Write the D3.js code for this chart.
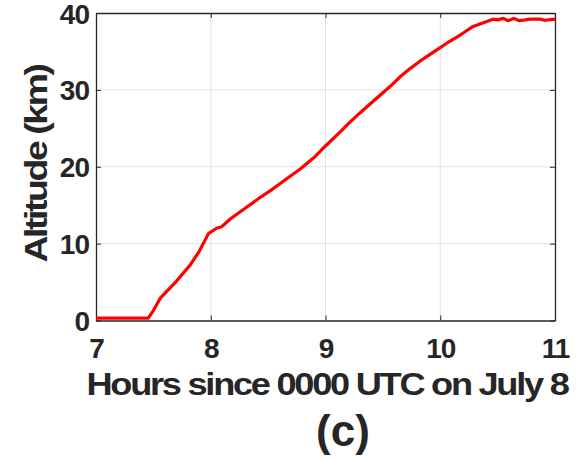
<!DOCTYPE html>
<html>
<head>
<meta charset="utf-8">
<script src="https://cdn.jsdelivr.net/npm/d3@7"></script>
<style>
  body { margin: 0; background: #fff; }
  svg text { font-family: "Liberation Sans", Arial, sans-serif; font-weight: bold; fill: #262626; }
</style>
</head>
<body>
<svg id="chart" width="581" height="460"></svg>
<script>
// balloon altitude
const hours = [7.0, 7.456, 7.5, 7.56, 7.7, 7.82, 7.9, 7.98, 8.05, 8.095, 8.17, 8.3, 8.43, 8.53,
    8.65, 8.78, 8.9, 9.0, 9.126, 9.2, 9.3, 9.475, 9.56, 9.65, 9.74, 9.82, 9.97, 10.06,
    10.16, 10.2, 10.28, 10.37, 10.46, 10.5, 10.55, 10.59, 10.64, 10.69, 10.74, 10.78,
    10.83, 10.87, 10.91, 10.96, 11.0];
const altitude = [0.3, 0.3, 1.3, 2.9, 5.1, 7.2, 9.0, 11.3, 12.0, 12.2, 13.2, 14.6, 16.0, 17.0,
    18.3, 19.7, 21.2, 22.7, 24.5, 25.6, 27.0, 29.3, 30.4, 31.7, 32.8, 33.7, 35.2, 36.1,
    37.0, 37.4, 38.2, 38.7, 39.2, 39.1, 39.3, 39.0, 39.3, 39.0, 39.1, 39.2,
    39.2, 39.2, 39.05, 39.15, 39.2];
const xTicks = [7, 8, 9, 10, 11];
const yTicks = [0, 10, 20, 30, 40];

const mLeft = 96, mRight = 555, mTop = 13, mBottom = 320.5;

let svg = d3.select("#chart");

let xScale = d3.scaleLinear().domain([7, 11]).range([mLeft, mRight]);
let yScale = d3.scaleLinear().domain([0, 40]).range([mBottom, mTop]);

// grid
svg.append("g").selectAll("line").data(xTicks.slice(1, -1)).enter().append("line")
    .attr("x1", d => xScale(d)).attr("x2", d => xScale(d))
    .attr("y1", mTop).attr("y2", mBottom)
    .attr("stroke", "#e3e3e3").attr("stroke-width", 1);
svg.append("g").selectAll("line").data(yTicks.slice(1, -1)).enter().append("line")
    .attr("x1", mLeft).attr("x2", mRight)
    .attr("y1", d => yScale(d)).attr("y2", d => yScale(d))
    .attr("stroke", "#e3e3e3").attr("stroke-width", 1);

// axes, ticks pointing inward, labels styled below
let x_axis = d3.axisBottom(xScale).tickValues(xTicks).tickFormat(d3.format("d"))
    .tickSizeInner(-5).tickSizeOuter(0).tickPadding(18);
let y_axis = d3.axisLeft(yScale).tickValues(yTicks).tickFormat(d3.format("d"))
    .tickSizeInner(-5).tickSizeOuter(0).tickPadding(7);
let xAxis = svg.append("g").attr("transform", `translate(0,${mBottom})`).call(x_axis);
let yAxis = svg.append("g").attr("transform", `translate(${mLeft},0)`).call(y_axis);
svg.append("g").attr("transform", `translate(0,${mTop})`)
    .call(d3.axisTop(xScale).tickValues(xTicks).tickSizeInner(-5).tickSizeOuter(0).tickFormat(""));
svg.append("g").attr("transform", `translate(${mRight},0)`)
    .call(d3.axisRight(yScale).tickValues(yTicks).tickSizeInner(-5).tickSizeOuter(0).tickFormat(""));

svg.selectAll(".domain").attr("stroke", "#262626").attr("stroke-width", 1.3);
svg.selectAll(".tick line").attr("stroke", "#262626").attr("stroke-width", 1);
svg.selectAll(".tick text")
    .style("font-size", "28px").attr("letter-spacing", "-1px").attr("fill", "#262626");
xAxis.selectAll(".tick text").attr("dy", "0.69em");
yAxis.selectAll(".tick text").attr("dy", "0.36em");

// the line
let line = d3.line().x((d, i) => xScale(hours[i])).y(d => yScale(d));
svg.append("path").datum(altitude)
    .attr("d", line)
    .attr("fill", "none")
    .attr("stroke", "#ff0000")
    .attr("stroke-width", 3.2)
    .attr("stroke-linejoin", "round");

// labels
svg.append("text")
    .attr("x", 327).attr("y", 395)
    .attr("text-anchor", "middle")
    .style("font-size", "32px")
    .attr("letter-spacing", "-2px")
    .attr("textLength", 481).attr("lengthAdjust", "spacingAndGlyphs")
    .text("Hours since 0000 UTC on July 8");

svg.append("text")
    .attr("transform", `translate(47,164) rotate(-90)`)
    .attr("text-anchor", "middle")
    .style("font-size", "31px")
    .attr("letter-spacing", "-2px")
    .attr("textLength", 197).attr("lengthAdjust", "spacingAndGlyphs")
    .text("Altitude (km)");

svg.append("text")
    .attr("x", 343).attr("y", 446)
    .attr("text-anchor", "middle")
    .style("font-size", "44px")
    .attr("fill", "#000")
    .text("(c)");
</script>
</body>
</html>
